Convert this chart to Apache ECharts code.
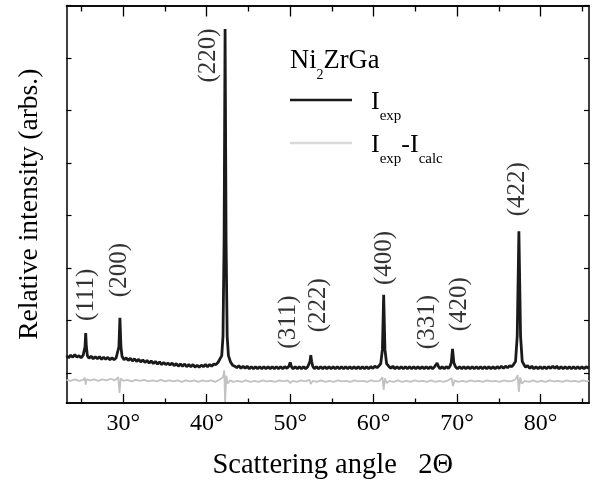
<!DOCTYPE html>
<html><head><meta charset="utf-8">
<script src="https://cdn.jsdelivr.net/npm/echarts@6/dist/echarts.min.js"></script>
<style>html,body{margin:0;padding:0;background:#fff}#c{width:593px;height:488px}</style>
</head><body><div id="c"></div>
<script>
// Experimental intensity I_exp: [2Theta (deg), intensity (arb.)]
const iExpData = [
[23.2,0.33],[23.45,0.29],[23.7,0.34],[23.95,0.30],[24.2,0.35],[24.45,0.30],[24.7,0.33],[24.95,0.29],[25.2,0.34],
[25.32,0.36],[25.42,0.5],[25.5,0.76],[25.58,0.5],[25.7,0.33],
[25.9,0.28],[26.15,0.32],[26.4,0.27],[26.65,0.31],[26.9,0.27],[27.15,0.31],[27.4,0.26],[27.65,0.30],
[27.9,0.26],[28.15,0.30],[28.4,0.25],[28.65,0.29],[28.9,0.25],[29.15,0.29],[29.35,0.30],
[29.48,0.5],[29.6,1.05],[29.72,0.5],[29.85,0.32],
[30.1,0.25],[30.35,0.29],[30.6,0.24],[30.85,0.28],[31.1,0.23],[31.35,0.27],[31.6,0.22],[31.85,0.26],
[32.1,0.21],[32.35,0.25],[32.6,0.20],[32.85,0.24],[33.1,0.19],[33.35,0.23],[33.6,0.18],[33.85,0.22],
[34.1,0.17],[34.35,0.21],[34.6,0.16],[34.85,0.20],[35.1,0.16],[35.35,0.19],[35.6,0.15],[35.85,0.19],
[36.1,0.14],[36.35,0.18],[36.6,0.13],[36.85,0.17],[37.1,0.13],[37.35,0.17],[37.6,0.12],[37.85,0.16],
[38.1,0.12],[38.35,0.16],[38.6,0.11],[38.85,0.15],[39.1,0.11],[39.35,0.15],[39.6,0.12],[39.85,0.16],
[40.1,0.12],[40.35,0.16],[40.6,0.13],[40.85,0.17],[41.1,0.16],[41.35,0.20],[41.55,0.22],
[41.8,0.33],[41.95,0.7],[42.08,2.5],[42.2,6.55],[42.32,2.5],[42.45,0.7],[42.6,0.33],[42.85,0.21],
[43.1,0.15],[43.35,0.13],[43.6,0.10],[43.85,0.14],[44.1,0.09],[44.35,0.13],[44.6,0.09],[44.85,0.13],
[45.1,0.08],[45.35,0.12],[45.6,0.08],[45.85,0.12],[46.1,0.08],[46.35,0.12],[46.6,0.08],[46.85,0.12],
[47.1,0.08],[47.35,0.12],[47.6,0.08],[47.85,0.12],[48.1,0.08],[48.35,0.12],[48.6,0.08],[48.85,0.12],
[49.1,0.08],[49.35,0.12],[49.6,0.09],
[49.85,0.13],[50.0,0.2],[50.15,0.12],
[50.35,0.08],[50.6,0.12],[50.85,0.08],[51.1,0.12],[51.35,0.08],[51.6,0.12],[51.85,0.08],[52.1,0.12],
[52.25,0.14],[52.37,0.22],[52.47,0.34],[52.57,0.22],[52.7,0.13],
[52.9,0.08],[53.15,0.12],[53.4,0.08],[53.65,0.12],[53.9,0.08],[54.15,0.12],[54.4,0.08],[54.65,0.12],
[54.9,0.08],[55.15,0.12],[55.4,0.08],[55.65,0.12],[55.9,0.08],[56.15,0.12],[56.4,0.08],[56.65,0.12],
[56.9,0.08],[57.15,0.12],[57.4,0.08],[57.65,0.12],[57.9,0.08],[58.15,0.12],[58.4,0.08],[58.65,0.12],
[58.9,0.08],[59.15,0.12],[59.4,0.08],[59.65,0.12],[59.9,0.09],[60.15,0.13],[60.4,0.10],[60.65,0.14],
[60.85,0.18],[61.05,0.45],[61.2,1.49],[61.35,0.45],[61.55,0.18],
[61.8,0.13],[62.05,0.09],[62.3,0.13],[62.55,0.08],[62.8,0.12],[63.05,0.08],[63.3,0.12],[63.55,0.08],
[63.8,0.12],[64.05,0.08],[64.3,0.12],[64.55,0.08],[64.8,0.12],[65.05,0.08],[65.3,0.12],[65.55,0.08],
[65.8,0.12],[66.05,0.08],[66.3,0.12],[66.55,0.08],[66.8,0.12],[67.05,0.08],[67.3,0.12],
[67.45,0.14],[67.6,0.19],[67.75,0.13],
[67.95,0.08],[68.2,0.12],[68.45,0.08],[68.7,0.12],[68.95,0.09],[69.15,0.13],
[69.3,0.2],[69.45,0.46],[69.6,0.2],
[69.8,0.12],[70.05,0.08],[70.3,0.12],[70.55,0.08],[70.8,0.12],[71.05,0.08],[71.3,0.12],[71.55,0.08],
[71.8,0.12],[72.05,0.08],[72.3,0.12],[72.55,0.08],[72.8,0.12],[73.05,0.08],[73.3,0.12],[73.55,0.08],
[73.8,0.12],[74.05,0.08],[74.3,0.12],[74.55,0.08],[74.8,0.12],[75.05,0.09],[75.3,0.13],[75.55,0.09],
[75.8,0.13],[76.05,0.10],[76.3,0.14],[76.55,0.12],[76.75,0.16],
[77.0,0.22],[77.2,0.7],[77.4,2.70],[77.6,0.7],[77.8,0.22],
[78.0,0.16],[78.2,0.11],[78.45,0.14],[78.7,0.09],[78.95,0.13],[79.2,0.08],[79.45,0.12],[79.7,0.08],
[79.95,0.12],[80.2,0.08],[80.45,0.12],[80.7,0.08],[80.95,0.12],[81.2,0.09],[81.45,0.13],[81.7,0.09],
[81.95,0.13],[82.2,0.08],[82.45,0.12],[82.7,0.08],[82.95,0.12],[83.2,0.08],[83.45,0.12],[83.7,0.08],
[83.95,0.12],[84.2,0.08],[84.45,0.12],[84.7,0.08],[84.95,0.12],[85.2,0.08],[85.45,0.12],[85.8,0.09]
];
// Difference I_exp - I_calc
const iDiffData = [
[23.2,-0.13],[23.7,-0.15],[24.2,-0.12],[24.7,-0.15],[25.2,-0.13],[25.4,-0.09],[25.5,-0.22],[25.6,-0.12],
[26.0,-0.14],[26.5,-0.12],[27.0,-0.15],[27.5,-0.12],[28.0,-0.14],[28.5,-0.11],[29.0,-0.14],
[29.4,-0.08],[29.55,-0.38],[29.7,-0.10],[30.0,-0.15],[30.5,-0.13],[31.0,-0.16],[31.5,-0.13],
[32.0,-0.15],[32.5,-0.13],[33.0,-0.16],[33.5,-0.14],[34.0,-0.16],[34.5,-0.13],[35.0,-0.16],
[35.5,-0.14],[36.0,-0.16],[36.5,-0.14],[37.0,-0.17],[37.5,-0.14],[38.0,-0.16],[38.5,-0.14],
[39.0,-0.17],[39.5,-0.14],[40.0,-0.16],[40.5,-0.14],[41.0,-0.17],[41.5,-0.13],[41.95,-0.08],
[42.1,0.05],[42.2,-0.55],[42.35,-0.05],[42.5,-0.20],[42.8,-0.14],[43.2,-0.17],[43.7,-0.15],
[44.2,-0.17],[44.7,-0.14],[45.2,-0.17],[45.7,-0.15],[46.2,-0.17],[46.7,-0.14],[47.2,-0.16],
[47.7,-0.15],[48.2,-0.17],[48.7,-0.14],[49.2,-0.16],[49.7,-0.14],[50.0,-0.19],[50.3,-0.15],
[50.8,-0.17],[51.3,-0.14],[51.8,-0.16],[52.3,-0.13],[52.47,-0.21],[52.7,-0.15],[53.2,-0.17],
[53.7,-0.14],[54.2,-0.17],[54.7,-0.15],[55.2,-0.17],[55.7,-0.14],[56.2,-0.16],[56.7,-0.15],
[57.2,-0.17],[57.7,-0.14],[58.2,-0.16],[58.7,-0.15],[59.2,-0.17],[59.7,-0.14],[60.2,-0.16],
[60.7,-0.15],[61.05,-0.08],[61.2,-0.32],[61.35,-0.10],[61.55,-0.19],[61.9,-0.15],[62.4,-0.17],
[62.9,-0.14],[63.4,-0.17],[63.9,-0.15],[64.4,-0.17],[64.9,-0.14],[65.4,-0.16],[65.9,-0.15],
[66.4,-0.17],[66.9,-0.14],[67.4,-0.17],[67.6,-0.20],[67.9,-0.15],[68.4,-0.17],[68.9,-0.14],
[69.35,-0.10],[69.5,-0.25],[69.7,-0.14],[70.1,-0.17],[70.6,-0.15],[71.1,-0.17],[71.6,-0.14],
[72.1,-0.16],[72.6,-0.15],[73.1,-0.17],[73.6,-0.14],[74.1,-0.16],[74.6,-0.15],[75.1,-0.17],
[75.6,-0.14],[76.1,-0.16],[76.6,-0.15],[77.0,-0.12],[77.25,-0.04],[77.4,-0.36],[77.55,-0.08],
[77.75,-0.20],[78.1,-0.15],[78.6,-0.17],[79.1,-0.14],[79.6,-0.17],[80.1,-0.15],[80.6,-0.17],
[81.1,-0.14],[81.6,-0.16],[82.1,-0.15],[82.6,-0.17],[83.1,-0.14],[83.6,-0.16],[84.1,-0.15],
[84.6,-0.17],[85.1,-0.14],[85.5,-0.16],[85.8,-0.15]
];
// Peak (hkl) labels and the positions of their label centres
const peakLabels = ['(111)','(200)','(220)','(311)','(222)','(400)','(331)','(420)','(422)'];
const peakLabelAngles = [25.6, 29.6, 40.25, 49.75, 53.35, 61.3, 66.45, 70.3, 77.25];
const peakLabelLevels = [1.49, 1.96, 6.05, 0.97, 1.29, 2.19, 0.97, 1.31, 3.5];
// Axes
const xMajorTicks = [30, 40, 50, 60, 70, 80];
const xMinorTicks = [25, 35, 45, 55, 65, 75, 85];
const yTicks = [0, 1, 2, 3, 4, 5, 6, 7];
const xRange = [23.2, 85.8];
const yRange = [-0.5714, 7];

const FONT = 'Liberation Serif';
const chart = echarts.init(document.getElementById('c'), null, {renderer: 'canvas'});

const labelData = peakLabels.map((t, i) => ({value: [peakLabelAngles[i], peakLabelLevels[i]], name: t}));

const axisLineStyle = {color: '#000', width: 1.5};
function xAx(pos, ticks, len, opts) {
  return Object.assign({
    type: 'value', min: xRange[0], max: xRange[1], position: pos,
    axisLine: {show: true, onZero: false, lineStyle: axisLineStyle},
    axisTick: {show: true, inside: true, length: len, customValues: ticks, lineStyle: {color: '#000', width: 1.3}},
    axisLabel: {show: false}, splitLine: {show: false}
  }, opts || {});
}
function yAx(pos) {
  return {
    type: 'value', min: yRange[0], max: yRange[1], position: pos,
    axisLine: {show: true, onZero: false, lineStyle: axisLineStyle},
    axisTick: {show: true, inside: true, length: 5, customValues: yTicks, lineStyle: {color: '#000', width: 1.2}},
    axisLabel: {show: false}, splitLine: {show: false}
  };
}

const option = {
  animation: false,
  backgroundColor: '#fff',
  grid: {left: 66.5, right: 4, top: 5.5, bottom: 85},
  title: {
    left: 285, top: 43,
    text: '{a|Ni}{s|2}{a|ZrGa}',
    textStyle: {
      fontWeight: 'normal',
      rich: {
        a: {fontFamily: FONT, fontSize: 26.5, fontWeight: 'normal', color: '#000', lineHeight: 30, verticalAlign: 'top'},
        s: {fontFamily: FONT, fontSize: 14, fontWeight: 'normal', color: '#000', lineHeight: 16, padding: [20, 0, 0, 0], verticalAlign: 'top'}
      }
    }
  },
  legend: {
    left: 285, top: 84, orient: 'vertical',
    itemWidth: 62, itemHeight: 2.6, itemGap: 8,
    icon: 'rect',
    data: [{name: 'Iexp', itemStyle: {color: '#1a1a1a'}}, {name: 'Iexp-Icalc', itemStyle: {color: '#d9d9d9'}}],
    formatter: function (n) {
      return n === 'Iexp' ? '{i|I}{s|exp}' : '{i|I}{s|exp}{i|-I}{s|calc}';
    },
    textStyle: {
      rich: {
        i: {fontFamily: FONT, fontSize: 26, color: '#000', lineHeight: 42, verticalAlign: 'top'},
        s: {fontFamily: FONT, fontSize: 15, color: '#000', lineHeight: 16, padding: [20, 0, 0, 0], verticalAlign: 'top'}
      },
      padding: [20, 0, 0, 14]
    }
  },
  xAxis: [
    xAx('bottom', xMajorTicks, 9, {
      name: 'Scattering angle   2\u0398', nameLocation: 'middle', nameGap: 48,
      nameTextStyle: {fontFamily: FONT, fontSize: 28.5, color: '#000', padding: [0, 0, 0, 10]},
      axisLabel: {show: true, customValues: xMajorTicks, margin: 9, fontFamily: FONT, fontSize: 24, color: '#000',
        formatter: v => v + '\u00b0'}
    }),
    xAx('bottom', xMinorTicks, 4.5),
    xAx('top', xMajorTicks, 11),
    xAx('top', xMinorTicks, 6)
  ],
  yAxis: [
    Object.assign(yAx('left'), {
      name: 'Relative intensity (arbs.)', nameLocation: 'middle', nameGap: 23,
      nameTextStyle: {fontFamily: FONT, fontSize: 27.5, color: '#000', padding: [0, 0, 0, 0]}
    }),
    yAx('right')
  ],
  series: [
    {
      name: 'Iexp-Icalc', type: 'line', data: iDiffData, xAxisIndex: 0, yAxisIndex: 0,
      showSymbol: false, symbol: 'none', lineStyle: {color: '#c2c2c2', width: 1.8}, itemStyle: {color: '#d9d9d9'}, z: 2
    },
    {
      name: 'Iexp', type: 'line', data: iExpData, xAxisIndex: 0, yAxisIndex: 0,
      showSymbol: false, symbol: 'none', lineStyle: {color: '#1a1a1a', width: 2.8}, itemStyle: {color: '#1a1a1a'}, z: 3
    },
    {
      name: 'labels', type: 'scatter', data: labelData, xAxisIndex: 0, yAxisIndex: 0,
      symbolSize: 0, silent: true, z: 4,
      label: {show: true, position: 'inside', rotate: 90, formatter: p => p.name,
        fontFamily: FONT, fontSize: 25, color: '#000', align: 'center', verticalAlign: 'middle'}
    }
  ]
};
chart.setOption(option);
</script></body></html>
